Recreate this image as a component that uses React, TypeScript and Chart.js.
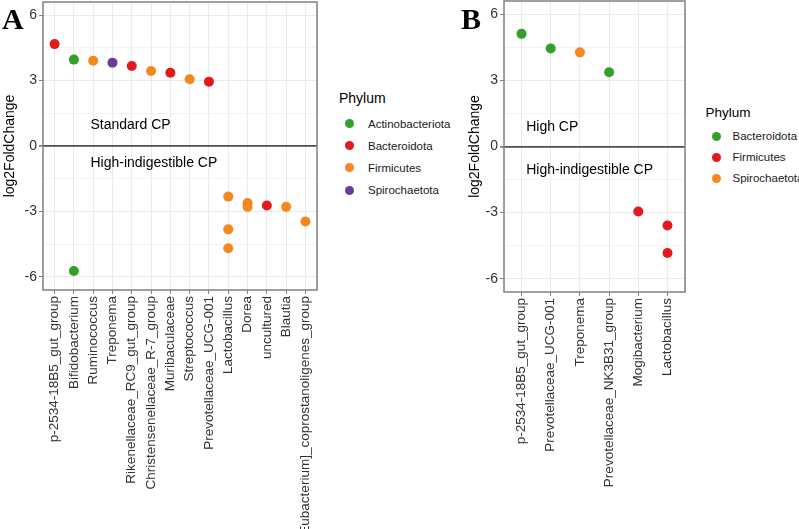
import React, { useEffect, useRef } from 'react';
import { Chart, registerables } from 'chart.js';
Chart.register(...registerables);

Chart.defaults.font.family = '"Liberation Sans", Arial, sans-serif';

const PALETTE = ['#33a02c', '#e31a1c', '#f5871f', '#6a3d9a'];
const Y_TICKS = [-6, -4.5, -3, -1.5, 0, 1.5, 3, 4.5, 6];

// ---------- Panel A data ----------
const genusA = [
  'p-2534-18B5_gut_group', 'Bifidobacterium', 'Ruminococcus', 'Treponema',
  'Rikenellaceae_RC9_gut_group', 'Christensenellaceae_R-7_group', 'Muribaculaceae',
  'Streptococcus', 'Prevotellaceae_UCG-001', 'Lactobacillus', 'Dorea', 'uncultured',
  'Blautia', '[Eubacterium]_coprostanoligenes_group',
];
const pointGenusA = [
  'p-2534-18B5_gut_group', 'Bifidobacterium', 'Bifidobacterium', 'Ruminococcus', 'Treponema',
  'Rikenellaceae_RC9_gut_group', 'Christensenellaceae_R-7_group', 'Muribaculaceae',
  'Streptococcus', 'Prevotellaceae_UCG-001', 'Lactobacillus', 'Lactobacillus', 'Lactobacillus',
  'Dorea', 'Dorea', 'uncultured', 'Blautia', '[Eubacterium]_coprostanoligenes_group',
];
const lfcA = [4.67, 3.96, -5.73, 3.91, 3.82, 3.67, 3.44, 3.36, 3.06, 2.95, -2.32, -3.82, -4.69, -2.61, -2.79, -2.73, -2.79, -3.46];
const phylumPointA = [
  'Bacteroidota', 'Actinobacteriota', 'Actinobacteriota', 'Firmicutes', 'Spirochaetota',
  'Bacteroidota', 'Firmicutes', 'Bacteroidota', 'Firmicutes', 'Bacteroidota',
  'Firmicutes', 'Firmicutes', 'Firmicutes', 'Firmicutes', 'Firmicutes', 'Bacteroidota',
  'Firmicutes', 'Firmicutes',
];
const phylumLevelsA = ['Actinobacteriota', 'Bacteroidota', 'Firmicutes', 'Spirochaetota'];
const notesA = [
  { text: 'Standard CP', x: 1.86, y: 0.95 },
  { text: 'High-indigestible CP', x: 1.86, y: -0.79 },
];

// ---------- Panel B data ----------
const genusB = [
  'p-2534-18B5_gut_group', 'Prevotellaceae_UCG-001', 'Treponema',
  'Prevotellaceae_NK3B31_group', 'Mogibacterium', 'Lactobacillus',
];
const pointGenusB = [
  'p-2534-18B5_gut_group', 'Prevotellaceae_UCG-001', 'Treponema',
  'Prevotellaceae_NK3B31_group', 'Mogibacterium', 'Lactobacillus', 'Lactobacillus',
];
const lfcB = [5.11, 4.45, 4.27, 3.37, -2.95, -3.58, -4.83];
const phylumPointB = [
  'Bacteroidota', 'Bacteroidota', 'Spirochaetota', 'Bacteroidota',
  'Firmicutes', 'Firmicutes', 'Firmicutes',
];
const phylumLevelsB = ['Bacteroidota', 'Firmicutes', 'Spirochaetota'];
const notesB = [
  { text: 'High CP', x: 0.16, y: 0.9 },
  { text: 'High-indigestible CP', x: 0.16, y: -1.08 },
];

function buildDatasets(genus: string[], ptGenus: string[], lfc: number[], ptPhylum: string[], levels: string[]) {
  return levels.map((lv, li) => ({
    label: lv,
    data: ptGenus
      .map((g, i) => ({ x: genus.indexOf(g), y: lfc[i], p: ptPhylum[i] }))
      .filter((d) => d.p === lv)
      .map((d) => ({ x: d.x, y: d.y })),
    backgroundColor: PALETTE[li],
    borderWidth: 0,
    pointRadius: 5,
    pointHoverRadius: 5,
  }));
}

type PanelProps = {
  left: number;
  width: number;
  height: number;
  padTop: number;
  padRight: number;
  yAxisWidth: number;
  xAxisHeight: number;
  genus: string[];
  ptGenus: string[];
  lfc: number[];
  ptPhylum: string[];
  levels: string[];
  notes: { text: string; x: number; y: number }[];
};

function Panel(props: PanelProps) {
  const ref = useRef<HTMLCanvasElement | null>(null);
  useEffect(() => {
    const canvas = ref.current;
    if (!canvas) return;
    const { genus, notes } = props;
    const framePlugin = {
      id: 'frameNotes',
      afterDatasetsDraw(chart: any) {
        const ctx = chart.ctx;
        const a = chart.chartArea;
        const xs = chart.scales.x;
        const ys = chart.scales.y;
        ctx.save();
        ctx.fillStyle = '#000';
        ctx.font = '14px "Liberation Sans", Arial, sans-serif';
        ctx.textAlign = 'left';
        ctx.textBaseline = 'middle';
        notes.forEach((n) => {
          ctx.fillText(n.text, xs.getPixelForValue(n.x), ys.getPixelForValue(n.y));
        });
        ctx.strokeStyle = '#808080';
        ctx.lineWidth = 1.5;
        ctx.strokeRect(a.left, a.top, a.right - a.left, a.bottom - a.top);
        ctx.restore();
      },
    };
    const chart = new Chart(canvas, {
      type: 'scatter',
      data: {
        datasets: buildDatasets(props.genus, props.ptGenus, props.lfc, props.ptPhylum, props.levels) as any,
      },
      options: {
        animation: false,
        responsive: false,
        devicePixelRatio: 1,
        layout: { autoPadding: false, padding: { left: 0, top: props.padTop, right: props.padRight, bottom: 0 } },
        plugins: { legend: { display: false }, tooltip: { enabled: false } },
        scales: {
          x: {
            type: 'linear',
            min: -0.6,
            max: genus.length - 1 + 0.6,
            afterBuildTicks: (axis: any) => {
              axis.ticks = genus.map((_, i) => ({ value: i }));
            },
            afterFit: (axis: any) => {
              axis.height = props.xAxisHeight;
              axis.paddingLeft = 0;
              axis.paddingRight = 0;
            },
            ticks: {
              autoSkip: false,
              minRotation: 90,
              maxRotation: 90,
              padding: 2,
              color: '#333',
              font: { size: 13.5 },
              callback: (v: any) => genus[Number(v)] ?? '',
            },
            grid: {
              color: '#ebebeb',
              lineWidth: 1,
              tickColor: '#808080',
              tickLength: 4,
            },
            border: { display: false },
          },
          y: {
            type: 'linear',
            min: -6.6,
            max: 6.6,
            afterBuildTicks: (axis: any) => {
              axis.ticks = Y_TICKS.map((v) => ({ value: v }));
            },
            afterFit: (axis: any) => {
              axis.width = props.yAxisWidth;
              axis.paddingTop = 0;
              axis.paddingBottom = 0;
            },
            ticks: {
              padding: 2,
              color: '#333',
              font: { size: 14 },
              callback: (v: any) => (Number(v) % 3 === 0 ? String(v) : ''),
            },
            grid: {
              color: (c: any) => (c.tick && c.tick.value === 0 ? '#4f4f4f' : '#ebebeb'),
              lineWidth: (c: any) => {
                const v = c.tick ? c.tick.value : 1;
                if (v === 0) return 1.8;
                return v % 3 === 0 ? 1 : 0.6;
              },
              tickColor: (c: any) => (c.tick && c.tick.value % 3 === 0 ? '#808080' : 'rgba(0,0,0,0)'),
              tickLength: 4,
            },
            border: { display: false },
            title: {
              display: true,
              text: 'log2FoldChange',
              color: '#000',
              font: { size: 14 },
              padding: { top: 2, bottom: 0 },
            },
          },
        },
      } as any,
      plugins: [framePlugin],
    });
    return () => chart.destroy();
  }, []);
  return (
    <canvas
      ref={ref}
      width={props.width}
      height={props.height}
      style={{ position: 'absolute', left: props.left, top: 0, width: props.width, height: props.height }}
    />
  );
}

function Legend(props: { left: number; titleY: number; titleSize: number; dotX: number; textX: number; rows: number[]; levels: string[] }) {
  const font = '"Liberation Sans", Arial, sans-serif';
  return (
    <>
      <div
        style={{
          position: 'absolute', left: props.left, top: props.titleY - 9, height: 18, lineHeight: '18px',
          fontFamily: font, fontSize: props.titleSize, color: '#000', whiteSpace: 'nowrap',
        }}
      >
        Phylum
      </div>
      {props.levels.map((lv, i) => (
        <React.Fragment key={lv}>
          <div
            style={{
              position: 'absolute', left: props.dotX - 4.5, top: props.rows[i] - 4.5, width: 9, height: 9,
              borderRadius: '50%', background: PALETTE[i],
            }}
          />
          <div
            style={{
              position: 'absolute', left: props.textX, top: props.rows[i] - 8, height: 16, lineHeight: '16px',
              fontFamily: font, fontSize: 11.5, color: '#1a1a1a', whiteSpace: 'nowrap',
            }}
          >
            {lv}
          </div>
        </React.Fragment>
      ))}
    </>
  );
}

export default function App() {
  const serif = '"Liberation Serif", "Times New Roman", serif';
  return (
    <div style={{ position: 'absolute', left: 0, top: 0, width: 799, height: 529, background: '#fff', overflow: 'hidden' }}>
      <Panel
        left={0} width={320} height={529} padTop={2} padRight={3} yAxisWidth={43} xAxisHeight={239}
        genus={genusA} ptGenus={pointGenusA} lfc={lfcA} ptPhylum={phylumPointA} levels={phylumLevelsA} notes={notesA}
      />
      <Panel
        left={465} width={223} height={529} padTop={1} padRight={3} yAxisWidth={39} xAxisHeight={237}
        genus={genusB} ptGenus={pointGenusB} lfc={lfcB} ptPhylum={phylumPointB} levels={phylumLevelsB} notes={notesB}
      />
      <Legend left={339} titleY={98} titleSize={14} dotX={349} textX={368} rows={[123.5, 145.7, 167.9, 190.1]} levels={phylumLevelsA} />
      <Legend left={705.5} titleY={113.3} titleSize={13.5} dotX={716} textX={732.5} rows={[136, 157, 178]} levels={phylumLevelsB} />
      <div style={{ position: 'absolute', left: 2, top: 2, fontFamily: serif, fontWeight: 'bold', fontSize: 30, lineHeight: '34px', color: '#000' }}>A</div>
      <div style={{ position: 'absolute', left: 461, top: 2, fontFamily: serif, fontWeight: 'bold', fontSize: 30, lineHeight: '34px', color: '#000' }}>B</div>
    </div>
  );
}
